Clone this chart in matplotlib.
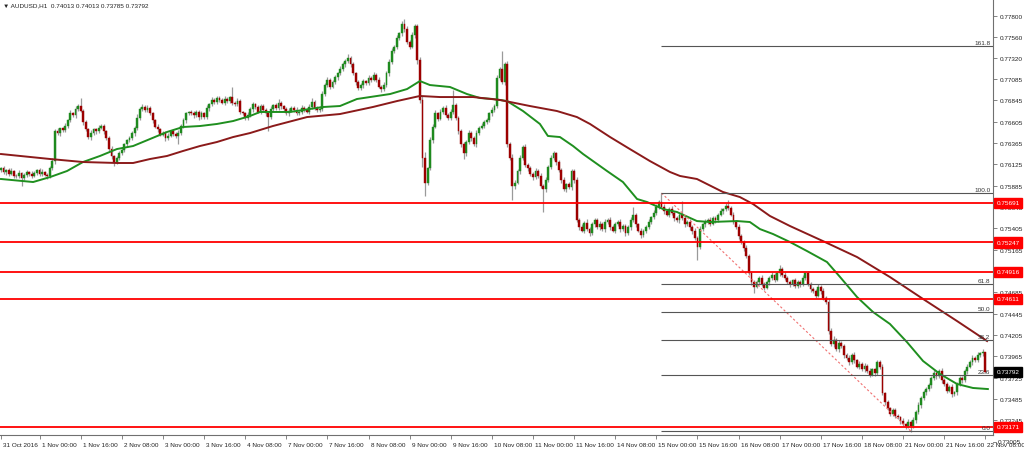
import numpy as np
import matplotlib
matplotlib.use('Agg')
import matplotlib.pyplot as plt
from matplotlib import transforms

plt.rcParams['font.family'] = ['Liberation Sans', 'DejaVu Sans']
fs = 4.6

chart_title = '\u25BC AUDUSD,H1  0.74013 0.74013 0.73785 0.73792'

# hourly closes in points (1e-5)
first_open = 76060
close_pts = [
    76080, 76040, 76060, 76020, 76050, 76000, 75990, 76030, 75970, 76010,
    76040, 76020, 75990, 76030, 76060, 76020, 76040, 76010, 75990, 76080,
    76160, 76500, 76480, 76530, 76510, 76560, 76620, 76700, 76680, 76750,
    76780, 76730, 76600, 76520, 76430, 76480, 76520, 76500, 76540, 76560,
    76500, 76420, 76300, 76220, 76150, 76200, 76250, 76290, 76350, 76400,
    76420, 76480, 76530, 76650, 76750, 76770, 76740, 76760, 76700, 76620,
    76550, 76520, 76460, 76480, 76420, 76450, 76500, 76470, 76440, 76480,
    76560, 76620, 76700, 76720, 76700, 76680, 76720, 76660, 76700, 76660,
    76760, 76800, 76850, 76830, 76870, 76850, 76820, 76860, 76840, 76880,
    76820, 76800, 76840, 76720, 76700, 76650, 76680, 76750, 76800, 76770,
    76720, 76780, 76740, 76700, 76660, 76750, 76790, 76760, 76820, 76780,
    76750, 76700, 76730, 76760, 76740, 76700, 76720, 76760, 76740, 76720,
    76770, 76830, 76760, 76740, 76750, 76920, 77020, 77080, 77000, 77050,
    77110, 77150, 77200, 77250, 77290, 77320, 77250, 77150, 77050, 76980,
    77020, 77060, 77040, 77100, 77080, 77130, 77080, 77000, 76970, 77020,
    77150, 77280, 77400, 77450, 77550, 77600, 77700, 77650, 77500, 77450,
    77580, 77680, 77300, 76850, 76200, 75920, 76080, 76400, 76550, 76700,
    76640, 76720, 76760, 76680, 76650, 76720, 76790, 76650, 76500, 76350,
    76250, 76380, 76480, 76420, 76350, 76480, 76540, 76560, 76600, 76620,
    76700, 76740, 76780, 77100, 77200, 77050, 77250, 76350, 76200, 75880,
    75920, 76050, 76200, 76320, 76120, 76080, 76020, 75980, 76050, 76000,
    75880, 75850, 75950, 76100, 76200, 76250, 76150, 76060, 75950, 75850,
    75900, 75870, 76050, 75950, 75500, 75420, 75380, 75470, 75400, 75350,
    75450, 75500, 75420, 75460, 75400, 75480, 75500, 75420, 75380, 75450,
    75480, 75400, 75430, 75350, 75420, 75500, 75560, 75450, 75380, 75330,
    75380, 75420, 75480, 75530, 75580, 75650, 75700, 75650, 75600, 75560,
    75620, 75580, 75520, 75500, 75560, 75520, 75450, 75480, 75420, 75380,
    75300, 75200, 75400, 75450, 75480, 75500, 75460, 75520, 75500, 75560,
    75600, 75620, 75660, 75640, 75560, 75480, 75420, 75320, 75250, 75180,
    75100, 74900, 74800, 74750, 74800, 74850, 74780, 74740, 74800, 74850,
    74880, 74830, 74900, 74950, 74880, 74850, 74800, 74780, 74820, 74760,
    74800, 74780, 74850, 74900, 74780, 74720, 74700, 74650, 74750, 74700,
    74620, 74580, 74250, 74100, 74150, 74050, 74120, 74080, 73980, 73950,
    73900, 73980, 73920, 73850, 73880, 73820, 73860, 73800, 73760, 73820,
    73780, 73900, 73850, 73550, 73450, 73380, 73320, 73360, 73300, 73280,
    73240, 73200, 73180, 73230, 73180, 73250, 73340, 73420, 73500, 73560,
    73600, 73640, 73720, 73780, 73740, 73800, 73700, 73650, 73580, 73620,
    73540, 73560, 73650, 73720, 73700, 73800, 73850, 73900, 73950, 73920,
    73980, 74000, 74013, 73792,
]

# wick lengths above / below the body, in pips (1e-4)
up_wick = [
    2, 3, 1, 2, 4, 1, 2, 3, 1, 2, 2, 1, 3, 2, 1, 2, 3, 1, 2, 3,
    4, 2, 3, 1, 2, 3, 2, 4, 2, 3, 2, 9, 2, 2, 1, 3, 2, 2, 3, 2,
    2, 1, 2, 3, 1, 2, 3, 2, 2, 1, 3, 2, 3, 4, 2, 3, 2, 3, 2, 1,
    2, 3, 1, 2, 2, 3, 1, 2, 2, 3, 2, 3, 2, 1, 2, 3, 2, 2, 3, 2,
    3, 2, 3, 2, 2, 3, 2, 3, 2, 2, 12, 2, 3, 2, 1, 2, 3, 2, 3, 2,
    2, 3, 2, 2, 2, 3, 2, 3, 4, 2, 1, 2, 3, 2, 2, 3, 2, 3, 2, 2,
    3, 4, 2, 2, 3, 3, 2, 3, 2, 3, 2, 2, 3, 3, 2, 5, 2, 3, 2, 3,
    2, 3, 2, 3, 2, 4, 2, 3, 2, 3, 3, 3, 3, 2, 3, 2, 4, 6, 3, 2,
    3, 2, 2, 3, 4, 6, 2, 3, 3, 4, 2, 3, 2, 3, 2, 3, 17, 3, 2, 2,
    3, 2, 3, 2, 2, 3, 2, 3, 2, 3, 2, 3, 2, 3, 2, 20, 3, 4, 3, 4,
    3, 2, 3, 2, 4, 2, 3, 2, 3, 2, 3, 2, 3, 2, 3, 3, 2, 3, 2, 3,
    2, 3, 2, 2, 3, 2, 3, 2, 4, 2, 3, 2, 2, 3, 2, 3, 2, 3, 2, 3,
    2, 3, 2, 3, 2, 3, 9, 2, 2, 3, 2, 2, 3, 2, 3, 3, 2, 10, 3, 2,
    3, 4, 2, 3, 2, 15, 3, 2, 3, 2, 3, 2, 3, 2, 3, 2, 3, 2, 3, 2,
    3, 2, 3, 6, 2, 3, 2, 3, 2, 3, 4, 2, 3, 2, 3, 2, 3, 2, 3, 2,
    3, 2, 3, 4, 2, 3, 2, 3, 2, 3, 2, 3, 3, 2, 3, 2, 3, 2, 3, 2,
    3, 2, 4, 3, 4, 2, 3, 2, 3, 2, 3, 2, 3, 2, 3, 2, 3, 2, 3, 2,
    2, 3, 2, 3, 2, 3, 2, 2, 3, 2, 2, 3, 2, 3, 2, 3, 2, 3, 2, 3,
    2, 3, 2, 3, 2, 2, 3, 2, 3, 2, 3, 2, 3, 2, 3, 2, 3, 2, 3, 2,
    3, 2, 4, 0,
]
dn_wick = [
    2, 2, 3, 2, 1, 3, 2, 2, 9, 2, 3, 2, 2, 1, 2, 3, 2, 2, 3, 2,
    2, 3, 2, 3, 2, 2, 3, 2, 2, 3, 2, 2, 3, 2, 2, 3, 2, 3, 2, 2,
    3, 2, 2, 3, 4, 2, 3, 2, 2, 3, 2, 2, 3, 2, 3, 2, 2, 3, 2, 3,
    2, 3, 2, 2, 3, 2, 2, 3, 2, 9, 2, 2, 3, 2, 2, 3, 2, 3, 2, 2,
    2, 3, 2, 2, 3, 2, 2, 3, 2, 2, 3, 2, 2, 3, 2, 3, 2, 2, 3, 2,
    2, 3, 2, 3, 16, 2, 3, 2, 2, 3, 2, 2, 3, 2, 3, 2, 2, 3, 2, 2,
    3, 2, 2, 3, 2, 2, 3, 2, 3, 2, 2, 3, 2, 2, 3, 2, 3, 2, 3, 2,
    2, 3, 2, 2, 3, 2, 3, 2, 3, 2, 2, 3, 2, 2, 3, 2, 3, 3, 2, 3,
    2, 3, 4, 3, 10, 15, 3, 2, 3, 2, 3, 2, 3, 2, 3, 2, 3, 2, 3, 3,
    6, 3, 2, 3, 2, 3, 2, 2, 3, 2, 2, 3, 2, 2, 3, 2, 3, 3, 3, 16,
    3, 2, 3, 3, 2, 3, 2, 3, 2, 3, 2, 26, 3, 2, 3, 2, 3, 2, 3, 2,
    3, 2, 3, 3, 2, 3, 2, 3, 2, 3, 2, 3, 2, 3, 2, 3, 2, 3, 2, 3,
    2, 3, 2, 3, 2, 3, 2, 3, 2, 3, 2, 3, 2, 3, 2, 2, 3, 2, 3, 2,
    3, 2, 3, 2, 3, 2, 3, 2, 3, 4, 2, 15, 3, 2, 3, 2, 3, 2, 3, 2,
    2, 3, 2, 3, 2, 3, 2, 3, 2, 3, 3, 2, 3, 7, 2, 3, 2, 3, 2, 3,
    2, 3, 2, 3, 2, 3, 2, 3, 2, 3, 2, 3, 2, 3, 2, 3, 2, 3, 2, 3,
    2, 3, 3, 2, 3, 2, 3, 2, 3, 2, 3, 2, 3, 2, 3, 2, 3, 2, 3, 2,
    3, 2, 3, 2, 3, 2, 3, 2, 3, 2, 3, 2, 3, 2, 6, 2, 3, 2, 3, 2,
    3, 2, 3, 2, 3, 2, 3, 2, 3, 2, 3, 2, 3, 2, 3, 2, 3, 2, 3, 2,
    2, 2, 3, 1,
]

# moving averages, read at a few bars (bar index, points)
fast_ma_bar = [0, 12.5, 19.1, 25.7, 31.9, 38.5, 45.1, 51.4, 58, 64.6, 70.8, 77.4, 84, 90.3,
               96.9, 100.8, 112.5, 125.3, 131.9, 138.5, 151.4, 158, 163, 166.9, 170.8, 174.7,
               181.3, 186.4, 191.4, 196.9, 203.1, 209.7, 212.8, 217.5, 222.6, 226.5, 235.8,
               242, 247.5, 251.4, 257.6, 263, 270.8, 275.9, 286.4, 291.4, 295.3, 300.4, 307,
               313.6, 321.4, 326.5, 333.1, 339.3, 345.9, 352.5, 358.8, 365.4, 372, 378.2, 384]
fast_ma_pts = [75961, 75927, 75983, 76051, 76152, 76220, 76298, 76332, 76411, 76490, 76546,
               76557, 76580, 76613, 76670, 76715, 76715, 76771, 76782, 76861, 76917, 76973,
               77063, 77018, 77007, 76996, 76917, 76872, 76861, 76838, 76726, 76580, 76445,
               76433, 76332, 76242, 76051, 75927, 75736, 75702, 75623, 75590, 75488, 75477,
               75488, 75477, 75398, 75342, 75252, 75151, 75027, 74858, 74633, 74465, 74330,
               74127, 73913, 73767, 73655, 73610, 73598]
slow_ma_bar = [0, 19.1, 31.9, 45.1, 51.4, 58, 64.6, 70.8, 77.4, 84, 90.3, 96.9, 105.8, 119.1,
               131.9, 144.7, 154.1, 163, 170.8, 183.7, 194.2, 205.8, 216.3, 224.1, 229.2, 237,
               244.7, 252.5, 260.3, 264.2, 270.8, 280.9, 287.5, 292.6, 299.2, 307, 319.8,
               333.1, 345.9, 358.8, 372, 383.7]
slow_ma_pts = [76242, 76186, 76152, 76141, 76141, 76186, 76220, 76276, 76332, 76377, 76433,
               76478, 76557, 76658, 76692, 76771, 76838, 76895, 76883, 76883, 76850, 76782,
               76726, 76658, 76580, 76433, 76298, 76163, 76040, 75995, 75961, 75815, 75758,
               75680, 75545, 75432, 75263, 75083, 74858, 74611, 74363, 74138]

sr_levels = [0.75691, 0.75247, 0.74916, 0.74611, 0.73171]
last_price = 0.73792

fib_start_bar, fib_high = 257, 0.75803
fib_end_bar, fib_low = 354, 0.73125
fib_ratios = [0.0, 23.6, 38.2, 50.0, 61.8, 100.0, 161.8]

price_ticks = [0.77800, 0.77560, 0.77320, 0.77085, 0.76845, 0.76605, 0.76365, 0.76125,
               0.75885, 0.75645, 0.75405, 0.75165, 0.74925, 0.74685, 0.74445, 0.74205,
               0.73965, 0.73725, 0.73485, 0.73245]
bottom_tick = 0.73005

time_bars = [0, 15, 31, 47, 63, 79, 95, 111, 127, 143, 159, 175, 191, 207, 223, 239,
             255, 271, 287, 303, 319, 335, 351, 367, 383]
time_labels = ['31 Oct 2016', '1 Nov 00:00', '1 Nov 16:00', '2 Nov 08:00', '3 Nov 00:00',
               '3 Nov 16:00', '4 Nov 08:00', '7 Nov 00:00', '7 Nov 16:00', '8 Nov 08:00',
               '9 Nov 00:00', '9 Nov 16:00', '10 Nov 08:00', '11 Nov 00:00', '11 Nov 16:00',
               '14 Nov 08:00', '15 Nov 00:00', '15 Nov 16:00', '16 Nov 08:00', '17 Nov 00:00',
               '17 Nov 16:00', '18 Nov 08:00', '21 Nov 00:00', '21 Nov 16:00', '22 Nov 08:00']

closes = np.array(close_pts) / 1e5
opens = np.r_[first_open / 1e5, closes[:-1]]
highs = np.maximum(opens, closes) + np.array(up_wick) / 1e4
lows = np.minimum(opens, closes) - np.array(dn_wick) / 1e4
x = np.arange(len(closes))

fig = plt.figure(figsize=(10.24, 4.56), dpi=100)
ax = fig.add_axes([0, 20 / 456, 993 / 1024, 436 / 456])
ax.set_xlim(-0.39, 386.0)
ax.set_ylim(0.73081, 0.77986)

# candles
ax.vlines(x, lows, highs, color='#9a9a9a', lw=0.9, zorder=2)
bull = closes >= opens
body = np.maximum(np.abs(closes - opens), 0.00003)
ax.bar(x[bull], body[bull], bottom=opens[bull], width=0.72, color='#1e8a1e',
       edgecolor='#1e8a1e', lw=0.3, zorder=3)
ax.bar(x[~bull], body[~bull], bottom=closes[~bull], width=0.72, color='#9c0000',
       edgecolor='#9c0000', lw=0.3, zorder=3)

# moving averages
ax.plot(fast_ma_bar, np.array(fast_ma_pts) / 1e5, color='#1f8f1f', lw=1.4, zorder=4)
ax.plot(slow_ma_bar, np.array(slow_ma_pts) / 1e5, color='#8b1a1a', lw=1.4, zorder=4)

# support / resistance
for lvl in sr_levels:
    ax.axhline(lvl, color='#ff0000', lw=1.3, zorder=5)

# fibonacci
ax.plot([fib_start_bar, fib_end_bar], [fib_high, fib_low], color='#f07070',
        ls=(0, (2, 2)), lw=0.8, zorder=4)
for r in fib_ratios:
    p = fib_low + (fib_high - fib_low) * r / 100
    ax.hlines(p, fib_start_bar, 386.0, color='#555555', lw=0.8, zorder=4)
    ax.text(385.0, p + 0.00008, f'{r:.1f}', ha='right', va='bottom', fontsize=fs,
            color='#333333', zorder=6)

# axes look
for s in ['left', 'top']:
    ax.spines[s].set_visible(False)
for s in ['right', 'bottom']:
    ax.spines[s].set_color('#707070')
    ax.spines[s].set_linewidth(0.8)

ax.yaxis.tick_right()
ax.set_yticks(price_ticks)
ax.set_yticklabels([f'{p:.5f}' for p in price_ticks])
ax.tick_params(axis='y', length=3, width=0.6, colors='#707070', labelcolor='#222222',
               labelsize=fs, pad=1.5)
ax.set_xticks(time_bars)
ax.set_xticklabels(time_labels)
ax.tick_params(axis='x', length=3, width=0.6, colors='#707070', labelcolor='#222222',
               labelsize=fs, pad=2)
shift = transforms.ScaledTranslation(2 / 100, 0, fig.dpi_scale_trans)
for lab in ax.get_xticklabels():
    lab.set_ha('left')
    lab.set_transform(lab.get_transform() + shift)

ytr = ax.get_yaxis_transform()
ax.plot([1.0, 1.003], [bottom_tick, bottom_tick], transform=ytr, color='#707070',
        lw=0.6, clip_on=False)
ax.text(1.0045, bottom_tick, f'{bottom_tick:.5f}', transform=ytr, fontsize=fs,
        va='center', ha='left', color='#222222', clip_on=False)

# price tags
for lvl in sr_levels:
    ax.text(1.0035, lvl, f'{lvl:.5f}', transform=ytr, fontsize=fs, va='center', ha='left',
            color='white', clip_on=False, zorder=10,
            bbox=dict(boxstyle='square,pad=0.4', fc='#ff0000', ec='#ff0000'))
ax.text(1.0035, last_price, f'{last_price:.5f}', transform=ytr, fontsize=fs, va='center',
        ha='left', color='white', clip_on=False, zorder=10,
        bbox=dict(boxstyle='square,pad=0.4', fc='black', ec='black'))

fig.text(3 / 1024, 1 - 6 / 456, chart_title, fontsize=fs, va='center', ha='left',
         color='#222222')

fig.savefig('out.png', dpi=100)
